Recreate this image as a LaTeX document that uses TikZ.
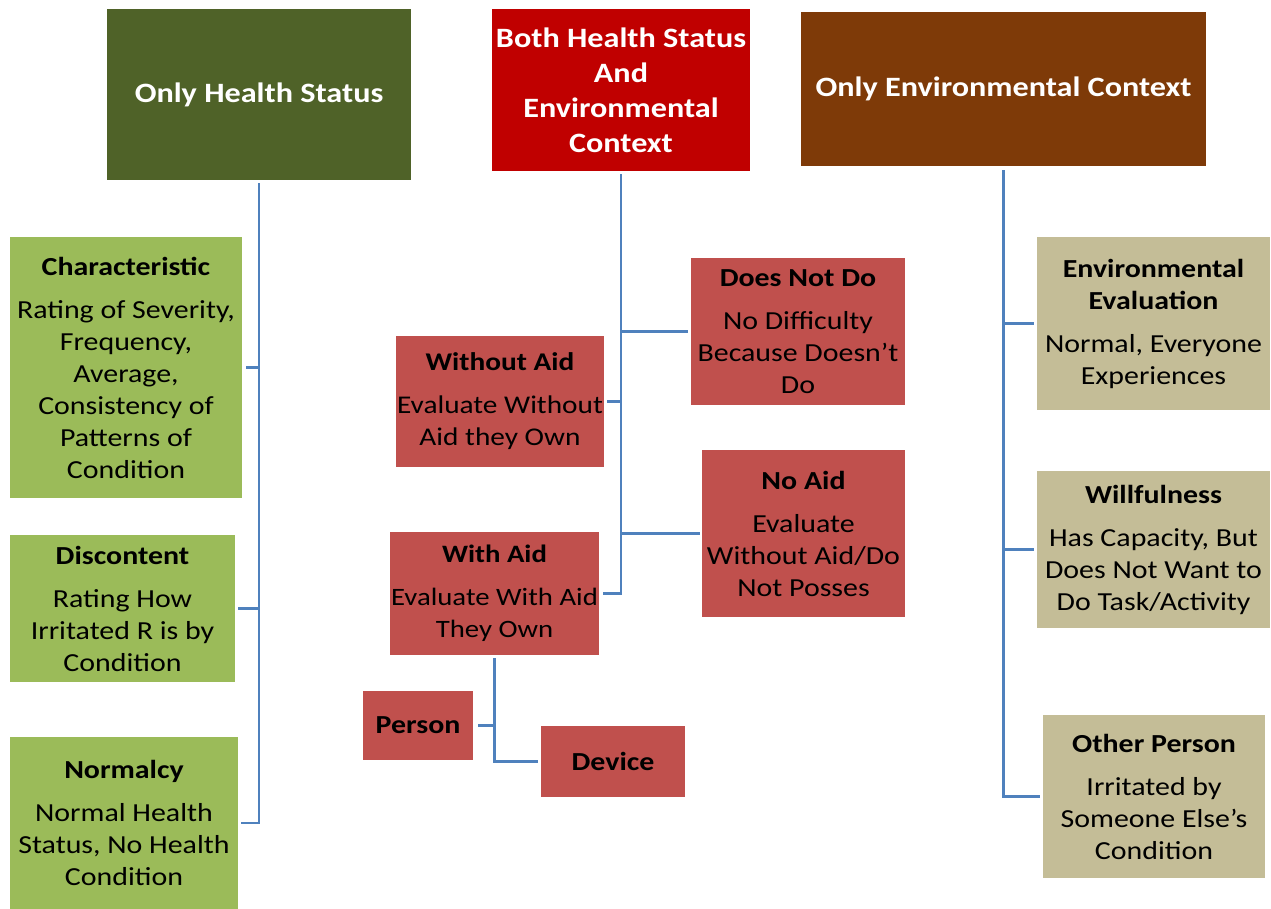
\documentclass[tikz,border=0pt]{standalone}
\usepackage{fontspec}
\setmainfont{Carlito}[FakeStretch=1.15]
\definecolor{olivehdr}{HTML}{4F6228}
\definecolor{redhdr}{HTML}{C00000}
\definecolor{brownhdr}{HTML}{7E3A08}
\definecolor{greenbox}{HTML}{9BBB59}
\definecolor{redbox}{HTML}{C0504D}
\definecolor{tanbox}{HTML}{C4BD97}
\definecolor{connblue}{HTML}{4F81BD}
\tikzset{
  hdr/.style={inner sep=0pt, align=center, text=white, font=\fontsize{28}{35}\selectfont\bfseries},
  box/.style={inner sep=0pt, align=center, text=black, font=\fontsize{26}{32}\selectfont},
  conn/.style={draw=connblue, line width=2.6pt},
}
\begin{document}
\begin{tikzpicture}[x=1pt,y=-1pt]
\useasboundingbox (0,0) rectangle (1271,909);
% headers
\node[hdr, fill=olivehdr, minimum width=304pt, minimum height=171pt] (ohs) at (259,94.5) {Only Health Status};
\node[hdr, fill=redhdr, minimum width=258pt, minimum height=162pt] (both) at (621,90) {Both Health Status\\And\\Environmental\\Context};
\node[hdr, fill=brownhdr, minimum width=405pt, minimum height=154pt] (oec) at (1003.5,89) {Only Environmental Context};
% left column
\node[box, fill=greenbox, minimum width=232pt, minimum height=261pt] (char) at (126,367.5) {\textbf{Characteristic}\\[11pt]Rating of Severity,\\Frequency,\\Average,\\Consistency of\\Patterns of\\Condition};
\node[box, fill=greenbox, minimum width=225pt, minimum height=147pt] (disc) at (122.5,608.5) {\textbf{Discontent}\\[11pt]Rating How\\Irritated R is by\\Condition};
\node[box, fill=greenbox, minimum width=228pt, minimum height=172pt] (norm) at (124,823) {\textbf{Normalcy}\\[11pt]Normal Health\\Status, No Health\\Condition};
% middle column
\node[box, fill=redbox, minimum width=214pt, minimum height=147pt] (dnd) at (798,331.5) {\textbf{Does Not Do}\\[11pt]No Difficulty\\Because Doesn't\\Do};
\node[box, fill=redbox, minimum width=208pt, minimum height=131pt, font=\fontsize{25.5}{32}\selectfont] (woa) at (500,401.5) {\textbf{Without Aid}\\[11pt]Evaluate Without\\Aid they Own};
\node[box, fill=redbox, minimum width=203pt, minimum height=167pt] (noa) at (803.5,533.5) {\textbf{No Aid}\\[11pt]Evaluate\\Without Aid/Do\\Not Posses};
\node[box, fill=redbox, minimum width=209pt, minimum height=123pt, font=\fontsize{25}{32}\selectfont] (wa) at (494.5,593.5) {\textbf{With Aid}\\[11pt]Evaluate With Aid\\They Own};
\node[box, fill=redbox, minimum width=110pt, minimum height=69pt, font=\fontsize{26}{32}\selectfont\bfseries] (per) at (418,725.5) {Person};
\node[box, fill=redbox, minimum width=144pt, minimum height=71pt, font=\fontsize{26}{32}\selectfont\bfseries] (dev) at (613,761.5) {Device};
% right column
\node[box, fill=tanbox, minimum width=233pt, minimum height=173pt] (env) at (1153.5,323.5) {\textbf{Environmental}\\\textbf{Evaluation}\\[11pt]Normal, Everyone\\Experiences};
\node[box, fill=tanbox, minimum width=233pt, minimum height=157pt] (will) at (1153.5,549.5) {\textbf{Willfulness}\\[11pt]Has Capacity, But\\Does Not Want to\\Do Task/Activity};
\node[box, fill=tanbox, minimum width=222pt, minimum height=163pt] (oth) at (1154,796.5) {\textbf{Other Person}\\[11pt]Irritated by\\Someone Else's\\Condition};
% connectors left
\draw[conn] ([yshift=-3pt]ohs.south) |- ([xshift=3pt]norm.east);
\draw[conn] ([xshift=4pt]char.east) -- (char.east -| ohs.south);
\draw[conn] ([xshift=3pt]disc.east) -- (disc.east -| ohs.south);
% connectors middle
\draw[conn] ([yshift=-3pt]both.south) |- ([xshift=4pt]wa.east);
\draw[conn] ([xshift=3pt]woa.east) -- (woa.east -| both.south);
\draw[conn] ([xshift=-3pt]dnd.west) -- (dnd.west -| both.south);
\draw[conn] ([xshift=-2pt]noa.west) -- (noa.west -| both.south);
\draw[conn] ([yshift=-3pt]wa.south) |- ([xshift=-3pt]dev.west);
\draw[conn] ([xshift=5pt]per.east) -- (per.east -| wa.south);
% connectors right
\draw[conn] ([yshift=-4pt]oec.south) |- ([xshift=-3pt]oth.west);
\draw[conn] ([xshift=-3pt]env.west) -- (env.west -| oec.south);
\draw[conn] ([xshift=-3pt]will.west) -- (will.west -| oec.south);
\end{tikzpicture}
\end{document}
